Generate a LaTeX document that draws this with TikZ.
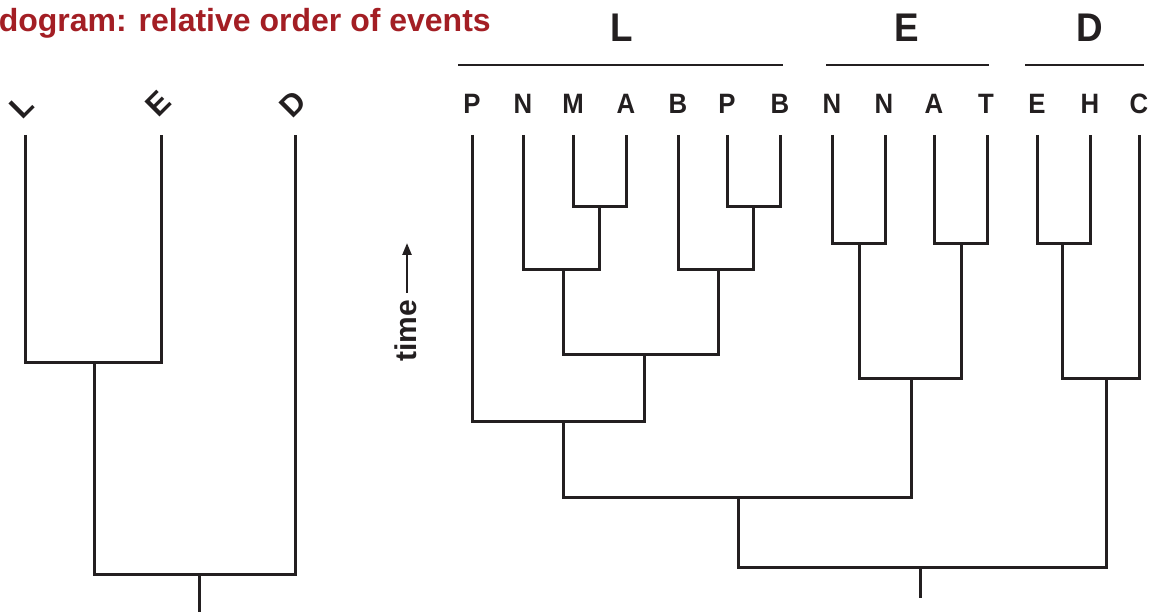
\documentclass[tikz,border=0pt]{standalone}
\usepackage{fontspec}
\setmainfont{Liberation Sans}
\newfontfamily\condfont[FakeStretch=0.92]{Liberation Sans}
\usetikzlibrary{arrows.meta}
\definecolor{titlered}{RGB}{163,30,36}
\definecolor{ink}{RGB}{35,31,32}
\begin{document}
\begin{tikzpicture}[x=1pt,y=-1pt,
  branch/.style={draw=ink, line width=3pt, line cap=butt, line join=miter},
  rule/.style={draw=ink, line width=2.6pt},
  leaflab/.style={text=ink, inner sep=0pt, font=\condfont\bfseries\fontsize{28}{28}\selectfont},
  grouplab/.style={text=ink, inner sep=0pt, font=\condfont\bfseries\fontsize{40}{40}\selectfont},
  tiltlab/.style={text=ink, inner sep=0pt, rotate=45, font=\bfseries\fontsize{31}{31}\selectfont},
  titlelab/.style={text=titlered, inner sep=0pt, anchor=base east, font=\bfseries\fontsize{32}{32}\selectfont},
  timelab/.style={text=ink, inner sep=0pt, rotate=90, font=\bfseries\fontsize{30}{30}\selectfont}]
\useasboundingbox (0,0) rectangle (1154,612);

% title
\node[titlelab] (title) at (491,32) {dogram: relative order of events};

% ---------------- left tree ----------------
\node[tiltlab] (lL) at (22,106) {L};
\node[tiltlab] (lE) at (158,104) {E};
\node[tiltlab] (lD) at (293,104) {D};
\coordinate (lLt) at (25,135);
\coordinate (lEt) at (161,135);
\coordinate (lDt) at (295,135);
\coordinate (lj1) at (94,362);
\coordinate (lj2) at (199,574);
\coordinate (lroot) at (199,612);
\draw[branch] (lLt) |- (lj1) -| (lEt);
\draw[branch] (lj1) |- (lj2) -| (lDt);
\draw[branch] (lj2) -- (lroot);

% ---------------- time arrow ----------------
\node[timelab] (time) at (406,331) {time};
\coordinate (tarA) at (407,293);
\coordinate (tarB) at (407,243);
\draw[draw=ink, line width=2.4pt, -{Triangle[length=12pt,width=9pt]}] (tarA) -- (tarB);

% ---------------- right tree: group labels ----------------
\node[grouplab] (gL) at (622,28) {L};
\node[grouplab] (gE) at (907,28) {E};
\node[grouplab] (gD) at (1090,28) {D};
\coordinate (gL1) at (458,65);  \coordinate (gL2) at (783,65);
\coordinate (gE1) at (826,65);  \coordinate (gE2) at (989,65);
\coordinate (gD1) at (1025,65); \coordinate (gD2) at (1144,65);
\draw[rule] (gL1) -- (gL2);
\draw[rule] (gE1) -- (gE2);
\draw[rule] (gD1) -- (gD2);

% leaf labels
\node[leaflab] (xP1) at (472,104) {P};
\node[leaflab] (xN1) at (523,104) {N};
\node[leaflab] (xM)  at (573,104) {M};
\node[leaflab] (xA1) at (626,104) {A};
\node[leaflab] (xB1) at (678,104) {B};
\node[leaflab] (xP2) at (727,104) {P};
\node[leaflab] (xB2) at (780,104) {B};
\node[leaflab] (xN2) at (832,104) {N};
\node[leaflab] (xN3) at (884,104) {N};
\node[leaflab] (xA2) at (934,104) {A};
\node[leaflab] (xT)  at (986,104) {T};
\node[leaflab] (xE)  at (1037,104) {E};
\node[leaflab] (xH)  at (1090,104) {H};
\node[leaflab] (xC)  at (1139,104) {C};

% leaf tops
\coordinate (p1) at (472,135);
\coordinate (n1) at (523,135);
\coordinate (m)  at (573,135);
\coordinate (a1) at (626,135);
\coordinate (b1) at (678,135);
\coordinate (p2) at (727,135);
\coordinate (b2) at (780,135);
\coordinate (n2) at (832,135);
\coordinate (n3) at (885,135);
\coordinate (a2) at (934,135);
\coordinate (t)  at (987,135);
\coordinate (e)  at (1037,135);
\coordinate (h)  at (1090,135);
\coordinate (c)  at (1139,135);

% junctions
\coordinate (jMA)   at (599,207);
\coordinate (jNMA)  at (563,270);
\coordinate (jPB)   at (753,207);
\coordinate (jBPB)  at (718,270);
\coordinate (jL1)   at (644,354);
\coordinate (jL)    at (563,421);
\coordinate (jNN)   at (859,244);
\coordinate (jAT)   at (961,244);
\coordinate (jE)    at (911,378);
\coordinate (jLE)   at (738,497);
\coordinate (jEH)   at (1062,244);
\coordinate (jD)    at (1106,378);
\coordinate (jroot) at (920,567);
\coordinate (rootend) at (920,598);

\draw[branch] (m) |- (jMA) -| (a1);
\draw[branch] (n1) |- (jNMA) -| (jMA);
\draw[branch] (p2) |- (jPB) -| (b2);
\draw[branch] (b1) |- (jBPB) -| (jPB);
\draw[branch] (jNMA) |- (jL1) -| (jBPB);
\draw[branch] (p1) |- (jL) -| (jL1);
\draw[branch] (n2) |- (jNN) -| (n3);
\draw[branch] (a2) |- (jAT) -| (t);
\draw[branch] (jNN) |- (jE) -| (jAT);
\draw[branch] (jL) |- (jLE) -| (jE);
\draw[branch] (e) |- (jEH) -| (h);
\draw[branch] (jEH) |- (jD) -| (c);
\draw[branch] (jLE) |- (jroot) -| (jD);
\draw[branch] (jroot) -- (rootend);
\end{tikzpicture}
\end{document}
